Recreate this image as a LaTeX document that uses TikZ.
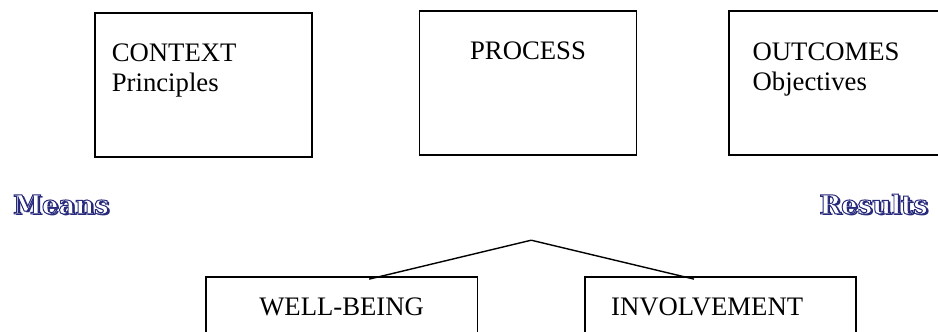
\documentclass[tikz,border=0pt]{standalone}
\usepackage{fontspec}
\setmainfont{Liberation Serif}
\newfontfamily\wordartfont{DejaVu Serif}
\definecolor{wordnavy}{RGB}{38,40,122}
% outlined word with a shadow (stroke navy, fill white)
\newcommand{\wordart}[1]{\rlap{\hspace{1.5pt}\raisebox{-1.5pt}{\textcolor{wordnavy}{#1}}}\textcolor{white}{\special{pdf:literal direct 0.149 0.157 0.478 RG 0.7 w 2 Tr}#1\special{pdf:literal direct 0 Tr}}}
\begin{document}
\begin{tikzpicture}[
    box/.style={rectangle, draw, line width=1.2pt, inner sep=0pt},
    topbox/.style={box, minimum width=5.42cm, minimum height=3.6cm},
    lowbox/.style={box, line width=1pt, minimum width=6.78cm, minimum height=2.5cm},
    boxtext/.style={inner sep=0pt, align=left, font=\fontsize{19}{21.3}\selectfont},
    sidetext/.style={inner sep=0pt, font=\wordartfont\bfseries\fontsize{18.5}{18.5}\selectfont},
    link/.style={line width=1pt}
]
    \useasboundingbox (0,0) rectangle (23.45,8.275);

    % Top row
    \node[topbox] (context) at (5.09, 6.15) {};
    \node[topbox] (process) at (13.2, 6.2) {};
    \node[topbox] (outcomes) at (20.94, 6.2) {};

    \node[boxtext, anchor=north west] (contexttxt) at ([xshift=0.43cm, yshift=-0.79cm]context.north west) {CONTEXT\\Principles};
    \node[boxtext, anchor=north] (processtxt) at ([yshift=-0.78cm]process.north) {PROCESS};
    \node[boxtext, anchor=north west] (outcomestxt) at ([xshift=0.6cm, yshift=-0.81cm]outcomes.north west) {OUTCOMES\\Objectives};

    % Side words
    \node[sidetext, anchor=base west] (means) at (0.32, 2.93) {\wordart{Means}};
    \node[sidetext, anchor=base east] (results) at (23.2, 2.93) {\wordart{Results}};

    % Bottom row
    \node[lowbox] (wellbeing) at (8.54, 0.1) {};
    \node[lowbox] (involvement) at (18.01, 0.1) {};

    \node[boxtext, anchor=north] (wellbeingtxt) at ([yshift=-0.53cm]wellbeing.north) {WELL-BEING};
    \node[boxtext, anchor=north west] (involvementtxt) at ([xshift=0.67cm, yshift=-0.53cm]involvement.north west) {INVOLVEMENT};

    % Roof over the two boxes
    \coordinate (apex) at (13.28, 2.27);
    \draw[link] (apex) -- ([xshift=0.69cm, yshift=-0.07cm]wellbeing.north);
    \draw[link] (apex) -- ([xshift=-0.66cm, yshift=-0.07cm]involvement.north);
\end{tikzpicture}
\end{document}
